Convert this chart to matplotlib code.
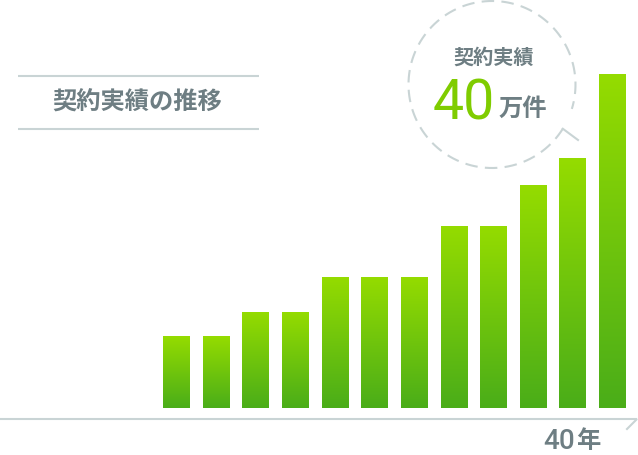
import numpy as np
import matplotlib
matplotlib.use("Agg")
import matplotlib.pyplot as plt
from matplotlib.colors import LinearSegmentedColormap

# data (万件)
years = ["1", "2", "3", "4", "5", "6", "7", "8", "9", "10", "11", "40年"]
values = [8.6, 8.6, 11.5, 11.5, 15.7, 15.7, 15.7, 21.8, 21.8, 26.7, 29.9, 40.0]
title = "契約実績の推移"
bubble_label = "契約実績"
bubble_value = "40"
bubble_unit = "万件"
axis_label_num = "40"
axis_label_unit = "年"

GRAY_TXT = "#6e7e83"
LINE = "#c9d4d5"
GREEN_TXT = "#7fcc00"
CJK = ["Noto Sans CJK JP", "DejaVu Sans"]

W, H = 638, 455
fig = plt.figure(figsize=(W / 100, H / 100), dpi=100)

# overlay in pixel units for decoration
deco = fig.add_axes([0, 0, 1, 1])
deco.set_xlim(0, W)
deco.set_ylim(H, 0)
deco.axis("off")

# title with rules
deco.plot([18, 259], [76, 76], color=LINE, lw=1.5, solid_capstyle="butt")
deco.plot([18, 259], [129, 129], color=LINE, lw=1.5, solid_capstyle="butt")
deco.text(137, 103, title, family=CJK, fontsize=17.5, weight="bold",
          color=GRAY_TXT, ha="center", va="center")

# baseline with a small hook at the right end
deco.plot([0, 637, 627], [419, 419, 429], color=LINE, lw=1.5,
          solid_joinstyle="miter")
deco.text(575, 449, axis_label_num, family=["Roboto", "DejaVu Sans"],
          fontsize=20, weight="medium", color=GRAY_TXT, ha="right", va="baseline")
deco.text(576, 448, axis_label_unit, family=CJK, fontsize=17.5, weight="bold",
          color=GRAY_TXT, ha="left", va="baseline")

# dashed speech bubble
cx, cy, r = 492, 84.5, 83.5
th = np.radians(np.linspace(32, 32 + 345, 400))
deco.plot(cx + r * np.cos(th), cy + r * np.sin(th), color=LINE, lw=1.5,
          dashes=(6, 3.5))
sx, sy = cx + r * np.cos(np.radians(32)), cy + r * np.sin(np.radians(32))
deco.plot([sx, 578], [sy, 140], color=LINE, lw=1.5)

deco.text(494, 57, bubble_label, family=CJK, fontsize=14.5, weight="bold",
          color=GRAY_TXT, ha="center", va="center")
deco.text(495, 120, bubble_value, family=["Liberation Sans Narrow", "Roboto"],
          fontsize=40, color=GREEN_TXT, ha="right", va="baseline")
deco.text(499, 116, bubble_unit, family=CJK, fontsize=17.5, weight="bold",
          color=GRAY_TXT, ha="left", va="baseline")

# bar axes
step = 39.64
left_px = 176.5 - step / 2
ax = fig.add_axes([left_px / W, (H - 408) / H, 12 * step / W, 334 / H])
ax.patch.set_alpha(0)
ax.axis("off")
x = np.arange(len(values))
bars = ax.bar(x, values, width=0.68, color="none", edgecolor="none")

cmap = LinearSegmentedColormap.from_list("g", ["#4aad19", "#95dc00"])
grad = np.linspace(0, 1, 256).reshape(-1, 1)
for b in bars:
    x0, w, h = b.get_x(), b.get_width(), b.get_height()
    im = ax.imshow(grad, cmap=cmap, origin="lower", aspect="auto",
                   extent=[x0, x0 + w, 0, h], interpolation="bilinear")
    im.set_clip_path(b)

ax.set_xlim(-0.5, len(values) - 0.5)
ax.set_ylim(0, 40)

fig.savefig("out.png", dpi=100)
